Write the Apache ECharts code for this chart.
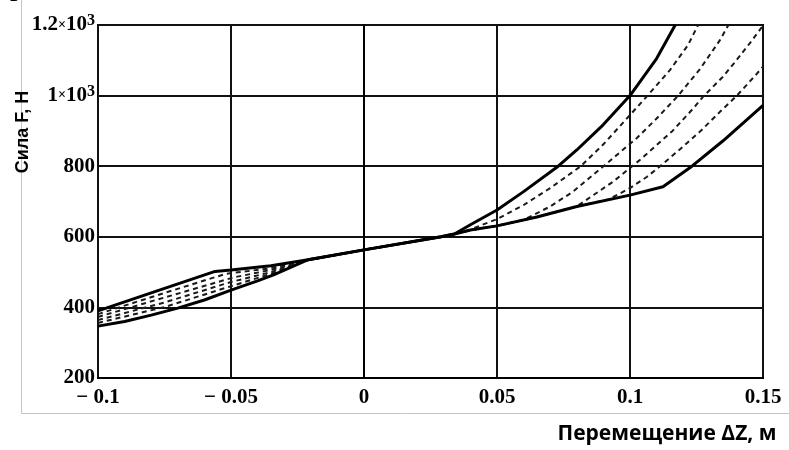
<!DOCTYPE html>
<html lang="ru">

<head>
  <meta charset="UTF-8">
  <title>Сила F от перемещения ΔZ</title>
  <script src="https://cdn.jsdelivr.net/npm/echarts@6/dist/echarts.min.js"></script>
  <style>
    body {
      margin: 0;
      padding: 0;
      background: #fff;
    }

    #chart {
      width: 789px;
      height: 450px;
    }
  </style>
</head>

<body>
  <div id="chart"></div>
  <script>
    // подписи осей
    var xTickLabels = ['\u2212 0.1', '\u2212 0.05', '0', '0.05', '0.1', '0.15'];
    var yTickLabels = ['200', '400', '600', '800', '{n|1}{m|\u00d7}{n|10}{s|3}', '{n|1.2}{m|\u00d7}{n|10}{s|3}'];

    // сплошные кривые (ΔZ, F)
    var upperCurve = [[-0.1, 390], [-0.08, 441], [-0.056, 502], [-0.05, 506], [-0.035, 518], [-0.021, 535],
      [0, 563], [0.029, 600], [0.034, 608], [0.04, 634], [0.05, 676], [0.06, 728], [0.073, 800],
      [0.08, 846], [0.09, 918], [0.1, 1000], [0.11, 1105], [0.117, 1200]];
    var lowerCurve = [[-0.1, 347], [-0.09, 360], [-0.08, 378], [-0.07, 398], [-0.06, 421], [-0.05, 449],
      [-0.04, 475], [-0.034, 492], [-0.021, 535], [0, 563], [0.029, 600], [0.034, 608], [0.04, 619],
      [0.05, 631], [0.065, 656], [0.08, 686], [0.1, 718], [0.1124, 742], [0.1233, 800], [0.135, 872],
      [0.15, 972]];

    // пунктирные кривые
    var dash1 = [[-0.1, 381], [-0.075, 441], [-0.052, 495], [-0.035, 511], [-0.022, 533], [0, 563],
      [0.029, 600], [0.034, 608], [0.04, 621], [0.05, 650], [0.06, 690], [0.07, 738], [0.0815, 800],
      [0.09, 862], [0.1, 945], [0.106, 995], [0.115, 1072], [0.1218, 1143], [0.1256, 1200]];
    var dash2 = [[-0.1, 373], [-0.075, 428], [-0.049, 485], [-0.035, 506], [-0.022, 533], [0, 563],
      [0.029, 600], [0.034, 608], [0.04, 619], [0.05, 631], [0.06, 648], [0.07, 686], [0.0786, 728],
      [0.0899, 799], [0.1026, 880], [0.11, 935], [0.118, 999], [0.1263, 1075], [0.1338, 1157], [0.137, 1200]];
    var dash3 = [[-0.1, 364], [-0.075, 414], [-0.05, 472], [-0.035, 500], [-0.022, 533], [0, 563],
      [0.029, 600], [0.034, 608], [0.04, 619], [0.05, 631], [0.065, 656], [0.08, 686], [0.0936, 756],
      [0.1038, 818], [0.116, 900], [0.1237, 963], [0.1275, 997], [0.135, 1054], [0.14, 1100],
      [0.145, 1148], [0.15, 1198]];
    var dash4 = [[-0.1, 356], [-0.075, 401], [-0.05, 460], [-0.035, 495], [-0.022, 533], [0, 563],
      [0.029, 600], [0.034, 608], [0.04, 619], [0.05, 631], [0.065, 656], [0.08, 686], [0.092, 706],
      [0.1, 738], [0.1064, 770], [0.1113, 800], [0.1188, 848], [0.1263, 898], [0.1338, 954],
      [0.1402, 1000], [0.1477, 1062], [0.15, 1082]];

    var chart = echarts.init(document.getElementById('chart'));
    var serif = '"Liberation Serif", "Times New Roman", serif';

    function dashed(data) {
      return {
        type: 'line',
        data: data,
        showSymbol: false,
        lineStyle: { color: '#1a1a1a', width: 2, type: [5, 4] },
        silent: true
      };
    }

    function solid(data) {
      return {
        type: 'line',
        data: data,
        showSymbol: false,
        lineStyle: { color: '#000', width: 3 },
        silent: true
      };
    }

    var option = {
      animation: false,
      grid: {
        left: 98,
        top: 25,
        right: 26,
        bottom: 72,
        containLabel: false,
        outerBoundsMode: 'none',
        show: true,
        borderColor: '#000',
        borderWidth: 2
      },
      xAxis: {
        type: 'value',
        min: -0.1,
        max: 0.15,
        interval: 0.05,
        axisLine: { lineStyle: { color: '#000', width: 2 } },
        axisTick: { show: false },
        splitLine: { lineStyle: { color: '#111', width: 2 } },
        axisLabel: {
          color: '#000',
          fontFamily: serif,
          fontWeight: 'bold',
          fontSize: 21,
          margin: 9,
          formatter: function (v) {
            return xTickLabels[Math.round((v + 0.1) / 0.05)];
          }
        }
      },
      yAxis: {
        type: 'value',
        min: 200,
        max: 1200,
        interval: 200,
        axisLine: { lineStyle: { color: '#000', width: 2 } },
        axisTick: { show: false },
        splitLine: { lineStyle: { color: '#111', width: 2 } },
        axisLabel: {
          color: '#000',
          fontFamily: serif,
          fontWeight: 'bold',
          fontSize: 21,
          margin: 3,
          formatter: function (v) {
            return yTickLabels[Math.round((v - 200) / 200)];
          },
          rich: {
            n: { fontFamily: serif, fontWeight: 'bold', fontSize: 21, color: '#000', lineHeight: 24 },
            m: { fontFamily: serif, fontWeight: 'bold', fontSize: 14, color: '#000', lineHeight: 24 },
            s: { fontFamily: serif, fontWeight: 'bold', fontSize: 16, color: '#000', verticalAlign: 'top', lineHeight: 24, padding: [0, 0, 12, 0] }
          }
        }
      },
      graphic: [
        // серая рамка
        { type: 'line', shape: { x1: 21.5, y1: 0, x2: 21.5, y2: 413.5 }, style: { stroke: '#c4c4c4', lineWidth: 1 } },
        { type: 'line', shape: { x1: 21.5, y1: 413.5, x2: 789, y2: 413.5 }, style: { stroke: '#c4c4c4', lineWidth: 1 } },
        { type: 'text', x: 10, y: -14, style: { text: '\u0413', font: 'bold 20px ' + serif, fill: '#000' } },
        {
          type: 'text', x: 23, y: 132, rotation: Math.PI / 2,
          style: { text: 'Сила F, H', font: 'bold 18px "Liberation Sans", Arial, sans-serif', fill: '#000', align: 'center', verticalAlign: 'middle' }
        },
        {
          type: 'text', x: 667, y: 434,
          style: { text: 'Перемещение ΔZ, м', font: 'bold 21px "Open Sans", sans-serif', fill: '#000', align: 'center', verticalAlign: 'middle' }
        }
      ],
      series: [dashed(dash1), dashed(dash2), dashed(dash3), dashed(dash4), solid(lowerCurve), solid(upperCurve)]
    };

    chart.setOption(option);
  </script>
</body>

</html>
